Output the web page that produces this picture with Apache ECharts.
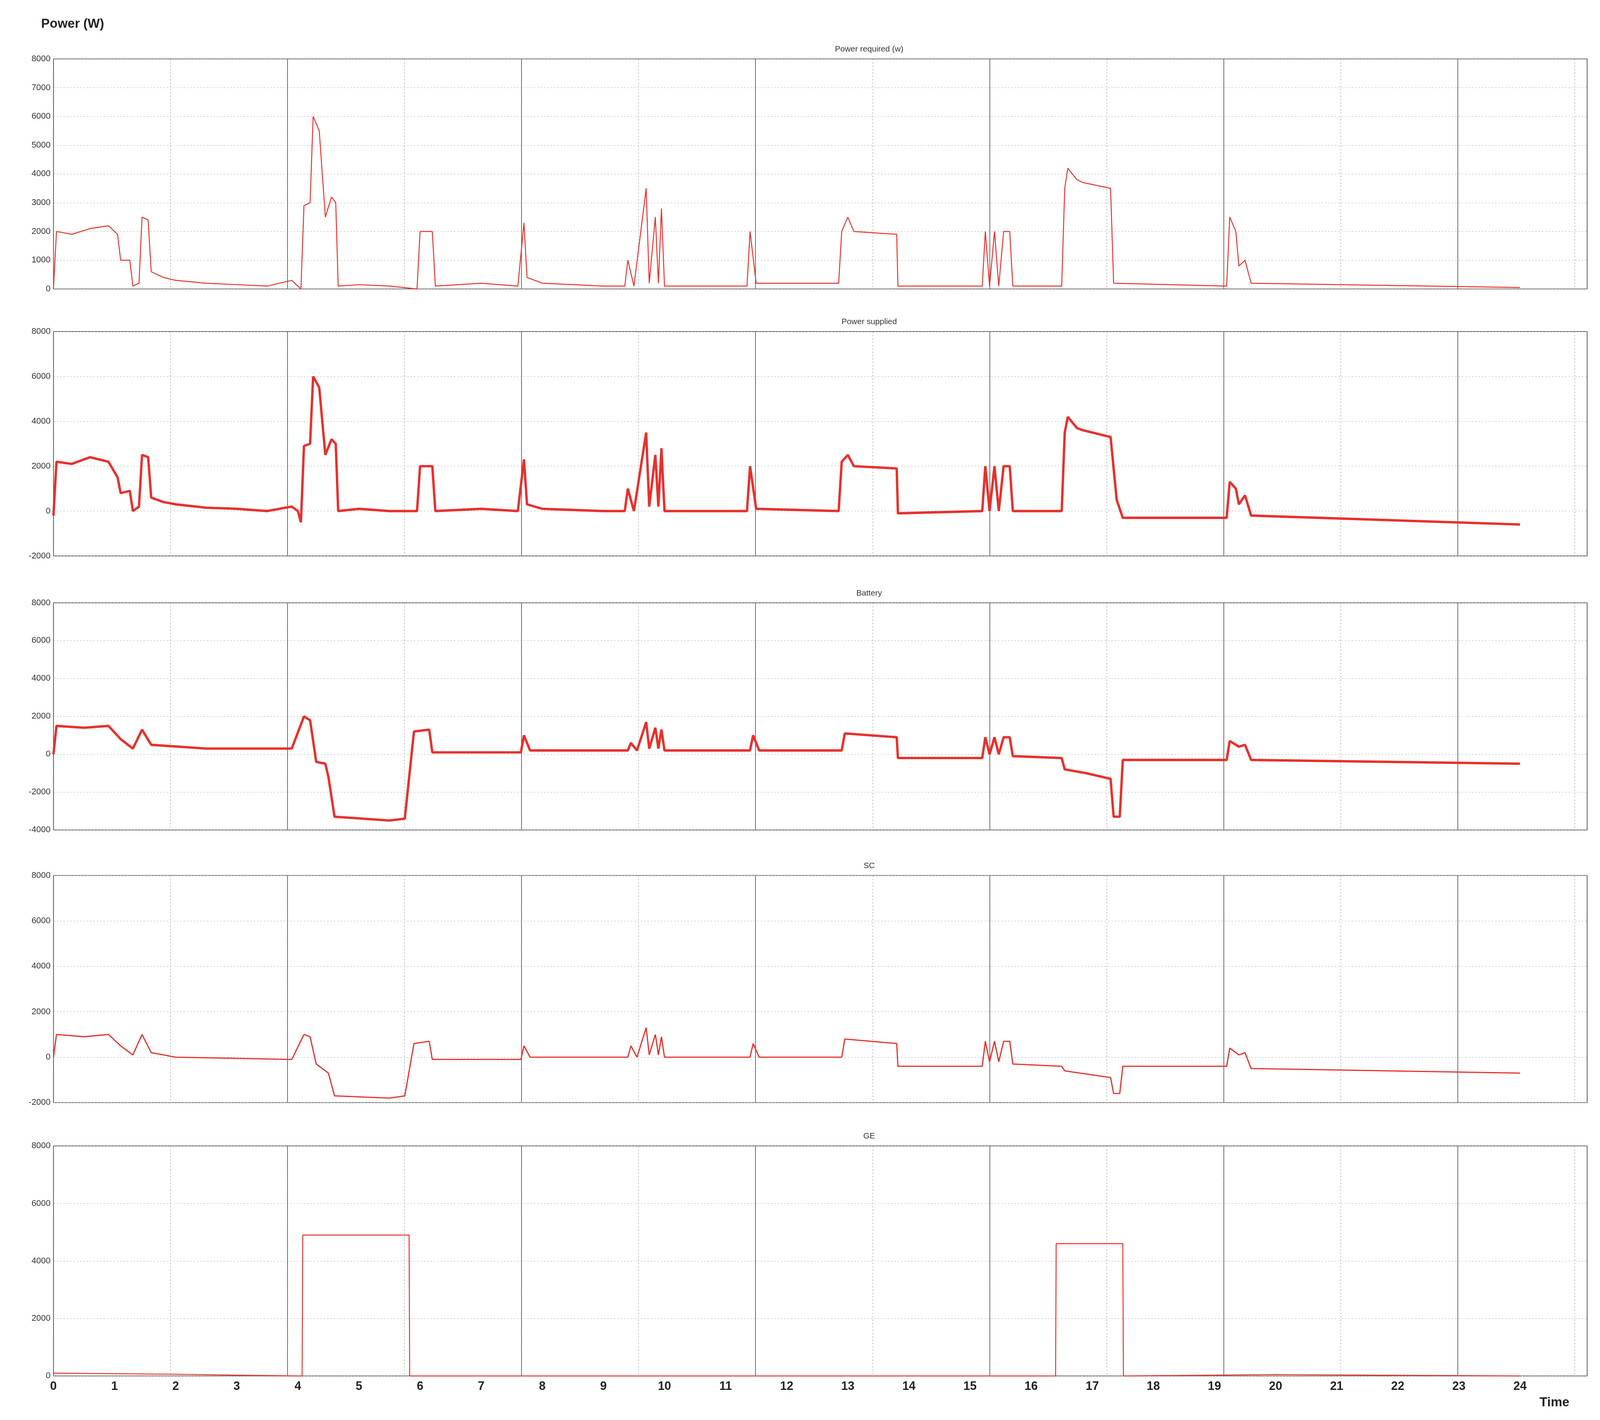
<!DOCTYPE html>
<html>
<head>
<meta charset="utf-8">
<script src="https://cdn.jsdelivr.net/npm/echarts@6/dist/echarts.min.js"></script>
<style>html,body{margin:0;background:#fff;overflow:hidden}#main{width:100vw;height:100vh}</style>
</head>
<body>
<div id="main"></div>
<script>
// panel titles and tick labels
var panelNames = ['Power required (w)', 'Power supplied', 'Battery', 'SC', 'GE'];
var yMins = [0, -2000, -4000, -2000, 0];
var yMaxs = [8000, 8000, 8000, 8000, 8000];
var ySteps = [1000, 2000, 2000, 2000, 2000];
var hours = [0,1,2,3,4,5,6,7,8,9,10,11,12,13,14,15,16,17,18,19,20,21,22,23,24];

// [time (h), power (W)]
var required = [[0,0],[0.05,2000],[0.3,1900],[0.6,2100],[0.9,2200],[1.05,1900],[1.1,1000],[1.25,1000],[1.3,100],[1.4,200],[1.45,2500],[1.55,2400],[1.6,600],[1.8,400],[2.0,300],[2.5,200],[3,150],[3.5,100],[3.9,300],[4.0,100],[4.05,0],[4.1,2900],[4.2,3000],[4.25,6000],[4.35,5500],[4.45,2500],[4.55,3200],[4.62,3000],[4.66,100],[5,150],[5.5,100],[5.95,0],[6.0,2000],[6.2,2000],[6.25,100],[7,200],[7.6,100],[7.7,2300],[7.75,400],[8,200],[9,100],[9.35,100],[9.4,1000],[9.5,100],[9.7,3500],[9.75,200],[9.85,2500],[9.9,200],[9.95,2800],[10.0,100],[11,100],[11.35,100],[11.4,2000],[11.5,200],[12.85,200],[12.9,2000],[13.0,2500],[13.1,2000],[13.8,1900],[13.82,100],[15.2,100],[15.25,2000],[15.32,100],[15.4,2000],[15.47,100],[15.55,2000],[15.65,2000],[15.7,100],[16.5,100],[16.55,3500],[16.6,4200],[16.75,3800],[16.85,3700],[17.3,3500],[17.35,200],[19.2,100],[19.25,2500],[19.35,2000],[19.4,800],[19.5,1000],[19.6,200],[24,50]];
var supplied = [[0,-200],[0.05,2200],[0.3,2100],[0.6,2400],[0.9,2200],[1.05,1500],[1.1,800],[1.25,900],[1.3,0],[1.4,200],[1.45,2500],[1.55,2400],[1.6,600],[1.8,400],[2.0,300],[2.5,150],[3,100],[3.5,0],[3.9,200],[4.0,0],[4.05,-500],[4.1,2900],[4.2,3000],[4.25,6000],[4.35,5500],[4.45,2500],[4.55,3200],[4.62,3000],[4.66,0],[5,100],[5.5,0],[5.95,0],[6.0,2000],[6.2,2000],[6.25,0],[7,100],[7.6,0],[7.7,2300],[7.75,300],[8,100],[9,0],[9.35,0],[9.4,1000],[9.5,0],[9.7,3500],[9.75,200],[9.85,2500],[9.9,200],[9.95,2800],[10.0,0],[11,0],[11.35,0],[11.4,2000],[11.5,100],[12.85,0],[12.9,2200],[13.0,2500],[13.1,2000],[13.8,1900],[13.82,-100],[15.2,0],[15.25,2000],[15.32,0],[15.4,2000],[15.47,0],[15.55,2000],[15.65,2000],[15.7,0],[16.5,0],[16.55,3500],[16.6,4200],[16.75,3700],[16.85,3600],[17.3,3300],[17.4,500],[17.5,-300],[19.2,-300],[19.25,1300],[19.35,1000],[19.4,300],[19.5,700],[19.6,-200],[24,-600]];
var battery = [[0,0],[0.05,1500],[0.5,1400],[0.9,1500],[1.1,800],[1.3,300],[1.45,1300],[1.6,500],[2.5,300],[3.9,300],[4.1,2000],[4.2,1800],[4.3,-400],[4.45,-500],[4.5,-1200],[4.6,-3300],[5.5,-3500],[5.75,-3400],[5.9,1200],[6.15,1300],[6.2,100],[7.65,100],[7.7,1000],[7.8,200],[9.4,200],[9.45,600],[9.55,200],[9.7,1700],[9.75,300],[9.85,1400],[9.9,300],[9.95,1300],[10.0,200],[11.4,200],[11.45,1000],[11.55,200],[12.9,200],[12.95,1100],[13.8,900],[13.82,-200],[15.2,-200],[15.25,900],[15.32,0],[15.4,900],[15.47,0],[15.55,900],[15.65,900],[15.7,-100],[16.5,-200],[16.55,-800],[16.9,-1000],[17.3,-1300],[17.35,-3300],[17.45,-3300],[17.5,-300],[19.2,-300],[19.25,700],[19.4,400],[19.5,500],[19.6,-300],[24,-500]];
var sc = [[0,0],[0.05,1000],[0.5,900],[0.9,1000],[1.1,500],[1.3,100],[1.45,1000],[1.6,200],[2.0,0],[3.9,-100],[4.1,1000],[4.2,900],[4.3,-300],[4.5,-700],[4.6,-1700],[5.5,-1800],[5.75,-1700],[5.9,600],[6.15,700],[6.2,-100],[7.65,-100],[7.7,500],[7.8,0],[9.4,0],[9.45,500],[9.55,0],[9.7,1300],[9.75,100],[9.85,1000],[9.9,100],[9.95,900],[10.0,0],[11.4,0],[11.45,600],[11.55,0],[12.9,0],[12.95,800],[13.8,600],[13.82,-400],[15.2,-400],[15.25,700],[15.32,-200],[15.4,700],[15.47,-200],[15.55,700],[15.65,700],[15.7,-300],[16.5,-400],[16.55,-600],[17.3,-900],[17.35,-1600],[17.45,-1600],[17.5,-400],[19.2,-400],[19.25,400],[19.4,100],[19.5,200],[19.6,-500],[24,-700]];
var ge = [[0,100],[2,60],[4,0],[4.07,0],[4.08,4900],[5.82,4900],[5.83,0],[16.4,0],[16.41,4600],[17.5,4600],[17.51,0],[20,50],[24,0]];

var seriesData = [required, supplied, battery, sc, ge];
var lineWidths = [4, 10, 10, 5, 4];
// panel top and height as % of page height
var tops = [4.15, 23.35, 42.45, 61.65, 80.7];
var heights = [16.2, 15.8, 16.0, 16.0, 16.2];

var chart = echarts.init(document.getElementById('main'));
var W = chart.getWidth();
var s = W / 6712;
var grids = [], xAxes = [], yAxes = [], series = [], titles = [];
for (var i = 0; i < 5; i++) {
    grids.push({left: '3.34%', right: '0.8%', top: tops[i] + '%', height: heights[i] + '%', show: true, borderColor: '#555', borderWidth: 3 * s});
    // time axis, labels only under the bottom panel
    xAxes.push({gridIndex: i, type: 'value', min: 0, max: 25.1, interval: 1,
        axisLine: {show: false}, axisTick: {show: false}, splitLine: {show: false},
        axisLabel: {show: i === 4, fontSize: 50 * s, fontWeight: 'bold', color: '#222', margin: 20 * s,
            formatter: function (v) { return hours.indexOf(v) >= 0 ? String(v) : ''; }}});
    // dotted vertical grid
    xAxes.push({gridIndex: i, type: 'value', min: 0, max: 25.1, interval: 1.915,
        axisLine: {show: false}, axisTick: {show: false}, axisLabel: {show: false},
        splitLine: {show: true, lineStyle: {color: '#999', width: 2 * s, type: [6 * s, 8 * s]}}});
    // solid vertical grid
    xAxes.push({gridIndex: i, type: 'value', min: 0, max: 25.1, interval: 3.83,
        axisLine: {show: false}, axisTick: {show: false}, axisLabel: {show: false},
        splitLine: {show: true, lineStyle: {color: '#666', width: 3 * s}}});
    yAxes.push({gridIndex: i, type: 'value', min: yMins[i], max: yMaxs[i], interval: ySteps[i],
        axisLine: {show: false}, axisTick: {show: false},
        axisLabel: {fontSize: 36 * s, color: '#333', margin: 12 * s, formatter: function (v) { return String(v); }},
        splitLine: {lineStyle: {color: '#aaa', width: 2 * s, type: [6 * s, 8 * s]}}});
    series.push({type: 'line', xAxisIndex: i * 3, yAxisIndex: i, data: seriesData[i],
        showSymbol: false, lineStyle: {color: '#e8302c', width: lineWidths[i] * s}, z: 5});
    titles.push({text: panelNames[i], left: '54.2%', top: (tops[i] - 1.1) + '%', textAlign: 'center',
        textStyle: {fontSize: 34 * s, fontWeight: 'normal', color: '#333'}});
}
titles.push({text: 'Power (W)', left: '2.45%', top: '1.1%', textStyle: {fontSize: 54 * s, fontWeight: 'bold', color: '#222'}});
titles.push({text: 'Time', left: '96.1%', top: '98.2%', textStyle: {fontSize: 54 * s, fontWeight: 'bold', color: '#222'}});

chart.setOption({
    animation: false,
    backgroundColor: '#fff',
    title: titles,
    grid: grids,
    xAxis: xAxes,
    yAxis: yAxes,
    series: series
});
</script>
</body>
</html>
